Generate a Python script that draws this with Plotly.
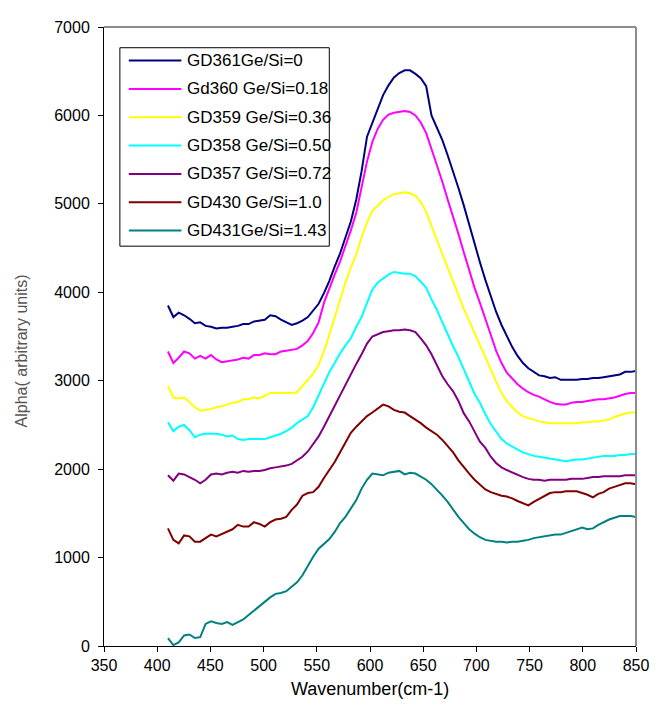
import plotly.graph_objects as go

wavenumber = [
    410.1, 415.2, 420.2, 425.3, 430.3, 435.4, 440.4, 445.5, 450.5, 455.6,
    460.7, 465.7, 470.8, 475.8, 480.9, 485.9, 491.0, 496.1, 501.1, 506.2,
    511.2, 516.3, 521.3, 526.4, 531.4, 536.5, 541.6, 546.6, 551.7, 556.7,
    561.8, 566.8, 571.9, 576.9, 582.0, 587.1, 592.1, 597.2, 602.2, 607.3,
    612.3, 617.4, 622.5, 627.5, 632.6, 637.6, 642.7, 647.7, 652.8, 657.8,
    662.9, 668.0, 673.0, 678.1, 683.1, 688.2, 693.2, 698.3, 703.3, 708.4,
    713.5, 718.5, 723.6, 728.6, 733.7, 738.7, 743.8, 748.8, 753.9, 758.9,
    764.0, 769.1, 774.1, 779.2, 784.2, 789.3, 794.3, 799.4, 804.4, 809.5,
    814.6, 819.6, 824.7, 829.7, 834.8, 839.8, 844.9, 849.9,
]

gd361 = [
    3850, 3720, 3770, 3740, 3700, 3650, 3660, 3620, 3610, 3590,
    3600, 3600, 3610, 3620, 3640, 3640, 3670, 3680, 3690, 3740,
    3730, 3690, 3660, 3630, 3650, 3680, 3720, 3790, 3870, 3990,
    4130, 4290, 4440, 4620, 4800, 5050, 5370, 5760, 5920, 6070,
    6230, 6340, 6430, 6480, 6510, 6510, 6470, 6420, 6330, 6000,
    5860, 5720, 5550, 5370, 5180, 4980, 4760, 4540, 4340, 4140,
    3950, 3780, 3630, 3500, 3380, 3280, 3200, 3140, 3100, 3060,
    3050, 3030, 3040, 3010, 3010, 3010, 3010, 3020, 3020, 3030,
    3030, 3040, 3050, 3060, 3070, 3100, 3100, 3110,
]
gd360 = [
    3330, 3200, 3260, 3330, 3310, 3250, 3280, 3250, 3290, 3240,
    3210, 3220, 3230, 3240, 3260, 3250, 3290, 3290, 3310, 3300,
    3300, 3330, 3340, 3350, 3360, 3400, 3450, 3540, 3660, 3880,
    4050, 4200, 4350, 4520, 4700, 4900, 5200, 5480, 5700, 5850,
    5950, 6010, 6030, 6040, 6050, 6040, 6000, 5920, 5800, 5620,
    5440, 5250, 5050, 4860, 4660, 4450, 4250, 4050, 3880, 3710,
    3520, 3340, 3200, 3090, 3020, 2960, 2910, 2870, 2840, 2820,
    2790, 2760, 2740, 2730, 2730, 2750, 2760, 2760, 2770, 2780,
    2790, 2790, 2800, 2810, 2830, 2850, 2860, 2860,
]
gd359 = [
    2940, 2810, 2800, 2810, 2760, 2700, 2660, 2670, 2680, 2700,
    2710, 2730, 2750, 2760, 2790, 2790, 2810, 2800, 2830, 2860,
    2860, 2860, 2860, 2860, 2870, 2940, 3010, 3080, 3180, 3330,
    3520, 3720, 3920, 4110, 4280, 4430, 4620, 4790, 4920, 4980,
    5040, 5080, 5110, 5120, 5130, 5120, 5090, 5020, 4910, 4750,
    4580, 4430, 4280, 4120, 3960, 3810, 3680, 3540, 3390, 3250,
    3120, 2990, 2860, 2770, 2700, 2640, 2600, 2580, 2560, 2540,
    2530, 2520, 2520, 2520, 2520, 2520, 2520, 2530, 2530, 2540,
    2540, 2550, 2560, 2590, 2610, 2630, 2640, 2640,
]
gd358 = [
    2530, 2430, 2480, 2500, 2440, 2360, 2390, 2400, 2400, 2400,
    2390, 2370, 2380, 2340, 2330, 2340, 2340, 2340, 2340, 2360,
    2380, 2400, 2430, 2470, 2520, 2560, 2600, 2700, 2830, 2960,
    3100, 3200, 3310, 3400, 3480, 3610, 3720, 3880, 4030, 4110,
    4160, 4200, 4230, 4220, 4210, 4210, 4180, 4120, 4050, 3920,
    3800, 3660, 3520, 3390, 3270, 3130, 2980, 2850, 2750, 2620,
    2510, 2420, 2340, 2290, 2250, 2220, 2190, 2170, 2150, 2140,
    2130, 2120, 2110, 2100, 2090, 2100, 2110, 2110, 2120, 2130,
    2140, 2150, 2150, 2150, 2160, 2160, 2170, 2170,
]
gd357 = [
    1930, 1870, 1950, 1940, 1910, 1880, 1840, 1880, 1940, 1950,
    1940, 1960, 1970, 1960, 1980, 1970, 1980, 1980, 1990, 2010,
    2020, 2030, 2040, 2060, 2100, 2140, 2200, 2280, 2370, 2480,
    2600, 2720, 2850, 2960, 3070, 3190, 3300, 3420, 3500, 3530,
    3550, 3560, 3570, 3570, 3580, 3570, 3550, 3480, 3400, 3300,
    3170, 3050, 2960, 2880, 2770, 2630, 2540, 2420, 2310, 2240,
    2140, 2070, 2020, 1990, 1960, 1940, 1910, 1890, 1880, 1880,
    1870, 1880, 1880, 1880, 1880, 1890, 1890, 1890, 1900, 1910,
    1910, 1920, 1920, 1920, 1920, 1930, 1930, 1930,
]
gd430 = [
    1330, 1200, 1160, 1250, 1240, 1180, 1180, 1220, 1260, 1240,
    1270, 1290, 1320, 1370, 1350, 1350, 1400, 1380, 1350, 1400,
    1430, 1440, 1460, 1540, 1600, 1700, 1730, 1740, 1800, 1900,
    1990, 2080, 2190, 2300, 2410, 2480, 2540, 2600, 2640, 2690,
    2730, 2710, 2670, 2650, 2640, 2600, 2560, 2520, 2470, 2430,
    2390, 2330, 2260, 2190, 2100, 2020, 1950, 1880, 1820, 1770,
    1740, 1720, 1700, 1690, 1670, 1640, 1610, 1590, 1630, 1660,
    1700, 1730, 1740, 1740, 1750, 1750, 1750, 1730, 1710, 1680,
    1720, 1740, 1780, 1800, 1820, 1840, 1840, 1830,
]
gd431 = [
    90, 10, 40, 120, 130, 90, 100, 250, 280, 260,
    250, 270, 240, 270, 300, 350, 400, 460, 510, 550,
    590, 600, 620, 670, 720, 800, 910, 1010, 1100, 1160,
    1210, 1290, 1390, 1460, 1550, 1650, 1780, 1880, 1950, 1940,
    1930, 1960, 1970, 1980, 1940, 1960, 1950, 1920, 1880, 1830,
    1770, 1700, 1630, 1540, 1460, 1390, 1320, 1270, 1230, 1200,
    1190, 1180, 1180, 1170, 1180, 1180, 1190, 1200, 1220, 1230,
    1240, 1250, 1260, 1260, 1280, 1300, 1320, 1340, 1320, 1330,
    1370, 1400, 1430, 1450, 1470, 1470, 1470, 1460,
]

series_names = [
    "GD361Ge/Si=0",
    "Gd360 Ge/Si=0.18",
    "GD359 Ge/Si=0.36",
    "GD358 Ge/Si=0.50",
    "GD357 Ge/Si=0.72",
    "GD430 Ge/Si=1.0",
    "GD431Ge/Si=1.43",
]
series_values = [gd361, gd360, gd359, gd358, gd357, gd430, gd431]
colors = ["#000080", "#FF00FF", "#FFFF00", "#00FFFF", "#800080", "#800000", "#008080"]

font = "Liberation Sans, Arial, sans-serif"

# figure geometry (the page body adds 8px, so the figure is drawn at an offset)
W, H = 652, 700
L, R, T, B = 96, 20, 11, 62
OFF = 8


def px_x(x):
    # window pixel -> paper x
    return (x - OFF - L) / (W - L - R)


def px_y(y):
    # window pixel -> paper y
    return (H - B - (y - OFF)) / (H - T - B)


fig = go.Figure()
for name, vals, col in zip(series_names, series_values, colors):
    fig.add_trace(go.Scatter(
        x=wavenumber, y=vals, mode="lines", name=name,
        line=dict(color=col, width=2), showlegend=False,
    ))

fig.update_layout(
    width=W, height=H,
    margin=dict(l=L, r=R, t=T, b=B),
    paper_bgcolor="white", plot_bgcolor="white",
    font=dict(family=font, size=16, color="black"),
    xaxis=dict(
        range=[350, 850], tickmode="linear", tick0=350, dtick=50,
        showgrid=False, zeroline=False, showline=True, linecolor="black", linewidth=1,
        ticks="outside", ticklen=5, tickcolor="black", ticklabeloverflow="allow",
    ),
    yaxis=dict(
        range=[0, 7000], tickmode="linear", tick0=0, dtick=1000,
        showgrid=False, zeroline=False, showline=True, linecolor="black", linewidth=1,
        ticks="outside", ticklen=5, tickcolor="black", ticklabelstandoff=5,
    ),
)

# grey frame on the top and right of the plot area
fig.add_shape(type="line", xref="paper", yref="paper", x0=0, x1=1, y0=1, y1=1,
              line=dict(color="#8c8c8c", width=2))
fig.add_shape(type="line", xref="paper", yref="paper", x0=1, x1=1, y0=0, y1=1,
              line=dict(color="#8c8c8c", width=2))

# legend box drawn by hand so the sample lines have the original length
fig.add_shape(type="rect", xref="paper", yref="paper",
              x0=px_x(120), x1=px_x(331), y0=px_y(40), y1=px_y(241),
              line=dict(color="black", width=1), fillcolor="white", layer="above")
for i, (name, col) in enumerate(zip(series_names, colors)):
    yy = 53 + i * 28.7
    fig.add_shape(type="line", xref="paper", yref="paper",
                  x0=px_x(129), x1=px_x(182), y0=px_y(yy), y1=px_y(yy),
                  line=dict(color=col, width=2), layer="above")
    fig.add_annotation(text=name, xref="paper", yref="paper",
                       x=px_x(186), y=px_y(yy), xanchor="left", yanchor="middle",
                       showarrow=False, font=dict(size=17))

fig.add_annotation(text="Wavenumber(cm-1)", xref="paper", yref="paper",
                   x=0.5, y=px_y(690), xanchor="center", yanchor="middle",
                   showarrow=False, font=dict(size=18))
fig.add_annotation(text="Alpha( arbitrary units)", xref="paper", yref="paper",
                   x=px_x(21), y=px_y(347), xanchor="center", yanchor="middle",
                   textangle=-90, showarrow=False, font=dict(size=16, color="#555555"))

fig.write_html("out.html")
